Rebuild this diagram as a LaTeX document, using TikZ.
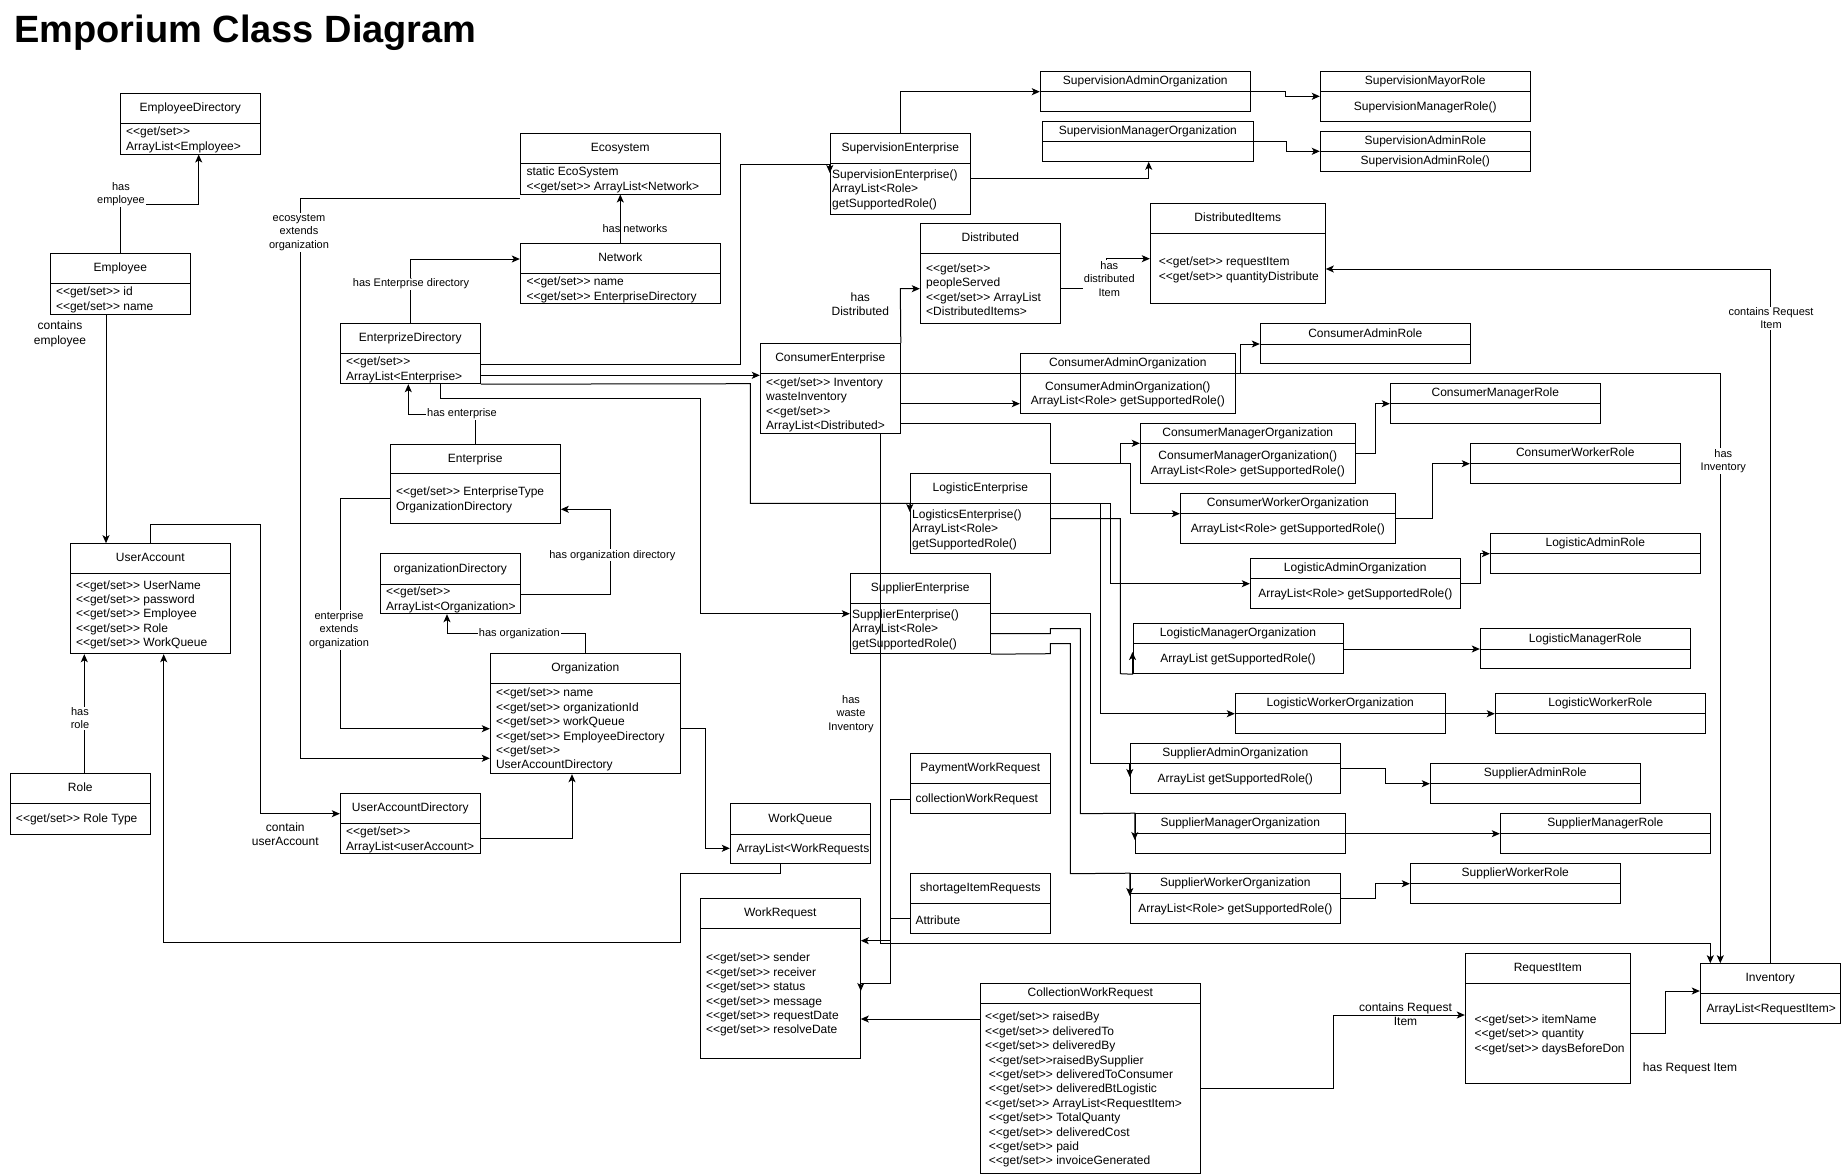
\documentclass[tikz,border=0pt]{standalone}
\usepackage{fontspec}
\newfontfamily\ls{Liberation Sans}
\usetikzlibrary{arrows.meta,fit}
\tikzset{
  box/.style={draw, line width=1pt, inner sep=0pt},
  ttl/.style={font=\ls\fontsize{12}{14.4}\selectfont, inner sep=0pt, text height=9pt, text depth=2.5pt},
  bdy/.style={font=\ls\fontsize{12}{14.4}\selectfont, inner sep=0pt},
  lbl/.style={font=\ls\fontsize{11}{13.5}\selectfont, align=center, inner sep=1pt},
  lblw/.style={lbl, fill=white},
  lbl12/.style={font=\ls\fontsize{12}{14.4}\selectfont, align=center, inner sep=1pt},
  ln/.style={line width=1pt},
  ar/.style={ln, -{Stealth[length=8pt,width=7pt,inset=2pt]}},
}
% name x1 y1 x2 ydiv y2 title pad body
\newcommand{\clsL}[9]{%
  \coordinate (#1-nw) at (#2,#3);
  \coordinate (#1-se) at (#4,#6);
  \node[box, fit=(#1-nw)(#1-se)] (#1) {};
  \draw[ln] (#2,#5) -- (#4,#5);
  \node[ttl] (#1-t) at ({(#2+#4)/2},{(#3+#5)/2}) {#7};
  \node[bdy, anchor=west, align=left] (#1-b) at ({#2+#8},{(#5+#6)/2+1}) {#9};
}
% name x1 y1 x2 ydiv y2 title body (centred)
\newcommand{\clsC}[8]{%
  \coordinate (#1-nw) at (#2,#3);
  \coordinate (#1-se) at (#4,#6);
  \node[box, fit=(#1-nw)(#1-se)] (#1) {};
  \draw[ln] (#2,#5) -- (#4,#5);
  \node[ttl] (#1-t) at ({(#2+#4)/2},{(#3+#5)/2}) {#7};
  \node[bdy, align=center] (#1-b) at ({(#2+#4)/2},{(#5+#6)/2+0.5}) {#8};
}
\begin{document}
\begin{tikzpicture}[x=1pt,y=-1pt]
\fill[white] (0,0) rectangle (1842,1175);
\useasboundingbox (0,0) rectangle (1842,1175);

\node[font=\ls\bfseries\fontsize{38}{42}\selectfont, anchor=base west, inner sep=0pt] (title) at (14,42) {Emporium Class Diagram};

% ---------- classes ----------
\clsL{empdir}{120.3}{93.3}{260.3}{123.7}{154}{EmployeeDirectory}{5.7}{<<get/set>>\\ArrayList<Employee>}
\clsL{employee}{50.3}{253.3}{190.3}{283.7}{314}{Employee}{5.5}{<<get/set>> id\\<<get/set>> name}
\clsL{useracc}{70.3}{543.7}{230.3}{573.7}{653.7}{UserAccount}{5.5}{<<get/set>> UserName\\<<get/set>> password\\<<get/set>> Employee\\<<get/set>> Role\\<<get/set>> WorkQueue}
\clsL{role}{10.3}{773.7}{150.3}{803.7}{834}{Role}{5.5}{<<get/set>> Role Type}
\clsL{uadir}{340.3}{793.7}{480.3}{823.7}{853.7}{UserAccountDirectory}{5.7}{<<get/set>>\\ArrayList<userAccount>}
\clsL{org}{490.3}{653.7}{680.3}{683.7}{773.7}{Organization}{5.5}{<<get/set>> name\\<<get/set>> organizationId\\<<get/set>> workQueue\\<<get/set>> EmployeeDirectory\\<<get/set>>\\UserAccountDirectory}
\clsL{orgdir}{380.3}{553.7}{520.3}{584}{613.7}{organizationDirectory}{5.7}{<<get/set>>\\ArrayList<Organization>}
\clsL{ent}{390.3}{444}{560.3}{473.7}{523.7}{Enterprise}{5.5}{<<get/set>> EnterpriseType\\OrganizationDirectory}
\clsL{entdir}{340.3}{323.7}{480.3}{353.7}{383.7}{EnterprizeDirectory}{5.7}{<<get/set>>\\ArrayList<Enterprise>}
\clsL{eco}{520.3}{133.7}{720.3}{163.7}{194}{Ecosystem}{6}{static EcoSystem\\<<get/set>> ArrayList<Network>}
\clsL{net}{520.3}{243.7}{720.3}{273.7}{303.7}{Network}{6}{<<get/set>> name\\<<get/set>> EnterpriseDirectory}
\clsL{wq}{730.3}{803.7}{870.3}{834}{863.7}{WorkQueue}{6}{ArrayList<WorkRequests}
\clsL{wr}{700.3}{898.7}{860.3}{928.7}{1058.7}{WorkRequest}{5.5}{<<get/set>> sender\\<<get/set>> receiver\\<<get/set>> status\\<<get/set>> message\\<<get/set>> requestDate\\<<get/set>> resolveDate}
\clsL{cowr}{980.3}{983.7}{1200.3}{1003.7}{1173.7}{CollectionWorkRequest}{4.7}{<<get/set>> raisedBy\\<<get/set>> deliveredTo\\<<get/set>> deliveredBy\\\hspace*{3.7pt}<<get/set>>raisedBySupplier\\\hspace*{3.7pt}<<get/set>> deliveredToConsumer\\\hspace*{3.7pt}<<get/set>> deliveredBtLogistic\\<<get/set>> ArrayList<RequestItem>\\\hspace*{3.7pt}<<get/set>> TotalQuanty\\\hspace*{3.7pt}<<get/set>> deliveredCost\\\hspace*{3.7pt}<<get/set>> paid\\\hspace*{3.7pt}<<get/set>> invoiceGenerated}
\clsL{pwr}{910.3}{753.7}{1050.3}{783.7}{813.7}{PaymentWorkRequest}{5}{collectionWorkRequest}
\clsL{sir}{910.3}{873.7}{1050.3}{903.7}{933.7}{shortageItemRequests}{5}{Attribute}
\clsL{ri}{1465.3}{953.7}{1630.3}{983.7}{1083.7}{RequestItem}{9}{<<get/set>> itemName\\<<get/set>> quantity\\<<get/set>> daysBeforeDon}
\clsL{inv}{1700.3}{963.7}{1840.3}{993.7}{1023.7}{Inventory}{6}{ArrayList<RequestItem>}
\clsL{supe}{830.3}{133.7}{970.3}{163.7}{214}{SupervisionEnterprise}{1.7}{SupervisionEnterprise()\\ArrayList<Role>\\getSupportedRole()}
\clsC{sado}{1040.3}{71.7}{1250.3}{91.7}{111.3}{SupervisionAdminOrganization}{}
\clsC{smgo}{1042.7}{121.7}{1253}{141.3}{161.3}{SupervisionManagerOrganization}{}
\clsC{smayr}{1320.3}{71.7}{1530.3}{91.7}{121.3}{SupervisionMayorRole}{SupervisionManagerRole()}
\clsC{sadr}{1320.3}{131.7}{1530.3}{151.3}{171.3}{SupervisionAdminRole}{SupervisionAdminRole()}
\clsL{dist}{920.3}{223.7}{1060.3}{253.7}{323.7}{Distributed}{5.7}{<<get/set>>\\peopleServed\\<<get/set>> ArrayList\\<DistributedItems>}
\clsL{ditems}{1150.3}{203.7}{1325.3}{233.7}{303.7}{DistributedItems}{8.3}{<<get/set>> requestItem\\<<get/set>> quantityDistribute}
\clsL{ce}{760.3}{343.7}{900.3}{373.7}{433.7}{ConsumerEnterprise}{5.7}{<<get/set>> Inventory\\wasteInventory\\<<get/set>>\\ArrayList<Distributed>}
\clsC{cao}{1020.3}{353.7}{1235.3}{373.7}{413.7}{ConsumerAdminOrganization}{ConsumerAdminOrganization()\\ArrayList<Role> getSupportedRole()}
\clsC{car}{1260.3}{323.7}{1470.3}{344}{363.7}{ConsumerAdminRole}{}
\clsC{cmo}{1140.3}{423.7}{1355.3}{443.3}{483.7}{ConsumerManagerOrganization}{ConsumerManagerOrganization()\\ArrayList<Role> getSupportedRole()}
\clsC{cmr}{1390.3}{383.7}{1600.3}{403.7}{423.7}{ConsumerManagerRole}{}
\clsC{cwo}{1180.3}{493.7}{1395.3}{513.7}{543.7}{ConsumerWorkerOrganization}{ArrayList<Role> getSupportedRole()}
\clsC{cwr}{1470.3}{443.7}{1680.3}{463.7}{483.7}{ConsumerWorkerRole}{}
\clsL{le}{910.3}{473.7}{1050.3}{503.7}{553.7}{LogisticEnterprise}{1.7}{LogisticsEnterprise()\\ArrayList<Role>\\getSupportedRole()}
\clsC{lao}{1250.3}{558.7}{1460.3}{578.7}{608.7}{LogisticAdminOrganization}{ArrayList<Role> getSupportedRole()}
\clsC{lar}{1490.3}{533.7}{1700.3}{553.7}{573.7}{LogisticAdminRole}{}
\clsC{lmo}{1133}{623.7}{1343}{643.7}{673.7}{LogisticManagerOrganization}{ArrayList getSupportedRole()}
\clsC{lmr}{1480.3}{628.7}{1690.3}{649}{668.7}{LogisticManagerRole}{}
\clsC{lwo}{1235.3}{693.7}{1445.3}{713.7}{733.7}{LogisticWorkerOrganization}{}
\clsC{lwr}{1495.3}{693.7}{1705.3}{713.7}{733.7}{LogisticWorkerRole}{}
\clsL{se}{850.3}{573.7}{990.3}{603.7}{653.7}{SupplierEnterprise}{1.7}{SupplierEnterprise()\\ArrayList<Role>\\getSupportedRole()}
\clsC{sao}{1130.3}{743.7}{1340.3}{763.7}{793.7}{SupplierAdminOrganization}{ArrayList getSupportedRole()}
\clsC{sar}{1430.3}{763.7}{1640.3}{783.7}{803.7}{SupplierAdminRole}{}
\clsC{smo}{1135.3}{813.7}{1345.3}{833.7}{853.7}{SupplierManagerOrganization}{}
\clsC{smr}{1500.3}{813.7}{1710.3}{833.7}{853.7}{SupplierManagerRole}{}
\clsC{swo}{1130.3}{873.7}{1340.3}{893.7}{923.7}{SupplierWorkerOrganization}{ArrayList<Role> getSupportedRole()}
\clsC{swr}{1410.3}{863.7}{1620.3}{883.7}{903.7}{SupplierWorkerRole}{}

% ---------- connectors ----------
\draw[ar] (employee.north) -- (employee.north |- 0,204) -- (198.7,204) -- (empdir.south -| 198.7,0);
\node[lblw] (l1) at (121,194) {has\\employee};
\draw[ar] (employee.south -| 106,0) -- (useracc.north -| 106,0);
\node[lbl12] (l2) at (60,334) {contains\\employee};
\draw[ar] (role.north -| 84.3,0) -- (useracc.south -| 84.3,0);
\node[lblw] (l3) at (80,718.3) {has\\role};
\draw[ar] (useracc.north -| 150.3,0) -- (150.3,524) -- (260.3,524) -- (260.3,813.7) -- (uadir.west |- 0,813.7);
\node[lbl12] (l4) at (285.3,834) {contain\\userAccount};
\draw[ar] (uadir.east |- 0,838) -- (572,838) -- (org.south -| 572,0);
\draw[ar] (wq.south -| 780.3,0) -- (780.3,873.7) -- (680.3,873.7) -- (680.3,942) -- (163.7,942) -- (useracc.south -| 163.7,0);
\draw[ar] (org.east |- 0,728.7) -- (705.3,728.7) -- (705.3,848.3) -- (wq.west |- 0,848.3);
\draw[ar] (ent.west |- 0,498.7) -- (340.3,498.7) -- (340.3,728.7) -- (org.west |- 0,728.7);
\node[lblw] (l5) at (339,630) {enterprise\\extends\\organization};
\draw[ar] (eco.south west |- 0,198.3) -- (300.3,198.3) -- (300.3,758.3) -- (org.west |- 0,758.3);
\node[lblw] (l6) at (299,232.3) {ecosystem\\extends\\organization};
\draw[ar] (net.north) -- (eco.south);
\node[lbl] (l7) at (635,229) {has networks};
\draw[ar] (entdir.north -| 410.3,0) -- (410.3,259) -- (net.west |- 0,259);
\node[lblw] (l8) at (411,284) {has Enterprise directory};
\draw[ar] (ent.north -| 475,0) -- (475,414) -- (408.3,414) -- (entdir.south -| 408.3,0);
\node[lblw] (l9) at (462,414) {has enterprise};
\draw[ar] (orgdir.east |- 0,594) -- (610.3,594) -- (610.3,509.3) -- (ent.east |- 0,509.3);
\node[lblw] (l10) at (612.3,555.3) {has organization directory};
\draw[ar] (org.north -| 585.3,0) -- (585.3,633.3) -- (447,633.3) -- (orgdir.south -| 447,0);
\node[lblw] (l11) at (519.3,633.3) {has organization};

\draw[ar] (entdir.east |- 0,364) -- (740.3,364) -- (740.3,164) -- (supe.west |- 0,164) -- (supe.west |- 0,173);
\draw[ar] (entdir.east |- 0,375.3) -- (ce.west |- 0,375.3);
\draw[ar] (entdir.south -| 440.3,0) -- (440.3,398.7) -- (700.3,398.7) -- (700.3,613.7) -- (se.west |- 0,613.7);
\draw[ar] (entdir.south east) -- (750.3,383.7) -- (750.3,503.3) -- (le.west |- 0,503.3) -- (le.west |- 0,512);

\draw[ar] (ce.north east) -- (900.3,288.7) -- (dist.west |- 0,288.7);
\node[lbl12] (l12) at (860.3,304) {has\\Distributed};
\draw[ar] (ce.east |- 0,423.7) -- (1050.3,423.7) -- (1050.3,463.7) -- (1120.3,463.7) -- (1120.3,443.3) -- (cmo.west |- 0,443.3);
\draw[ar] (ce.east |- 0,423.7) -- (1050.3,423.7) -- (1050.3,463.7) -- (1130.3,463.7) -- (1130.3,513.7) -- (cwo.west |- 0,513.7);
\draw[ar] (ce.east |- 0,403.7) -- (cao.west |- 0,403.7);
\draw[ar] (ce.east |- 0,373.7) -- (1720.3,373.7) -- (inv.north -| 1720.3,0);
\node[lblw] (l13) at (1723.3,461) {has\\Inventory};
\draw[ar] (ce.south -| 880.3,0) -- (880.3,943.3) -- (1710.3,943.3) -- (inv.north -| 1710.3,0);
\node[lbl] (l14) at (851,714) {has\\waste\\Inventory};

\draw[ar] (cao.east |- 0,373.7) -- (1240.3,373.7) -- (1240.3,344) -- (car.west |- 0,344);
\draw[ar] (cmo.east |- 0,453.7) -- (1375.3,453.7) -- (1375.3,403.7) -- (cmr.west |- 0,403.7);
\draw[ar] (cwo.east |- 0,518.7) -- (1432.7,518.7) -- (1432.7,463.7) -- (cwr.west |- 0,463.7);
\draw[ar] (le.east |- 0,503.7) -- (1110.3,503.7) -- (1110.3,583.7) -- (lao.west |- 0,583.7);
\draw[ar] (le.east |- 0,503.7) -- (1100.3,503.7) -- (1100.3,713.7) -- (lwo.west |- 0,713.7);
\draw[ar] (le.east |- 0,518.7) -- (1120.3,518.7) -- (1120.3,673.7) -- (lmo.south west) -- (lmo.west |- 0,652);
\draw[ar] (lao.east |- 0,583.7) -- (1480.3,583.7) -- (1480.3,553.7) -- (lar.west |- 0,553.7);
\draw[ar] (lmo.east |- 0,649) -- (lmr.west |- 0,649);
\draw[ar] (lwo.east |- 0,713.7) -- (lwr.west |- 0,713.7);
\draw[ar] (se.east |- 0,613.7) -- (1090.3,613.7) -- (1090.3,763.7) -- (sao.west |- 0,763.7) -- (sao.west |- 0,777);
\draw[ar] (se.east |- 0,633.7) -- (1050.3,633.7) -- (1050.3,628.7) -- (1080.3,628.7) -- (1080.3,813.7) -- (smo.north west) -- (smo.west |- 0,840);
\draw[ar] (se.south east) -- (1050.3,653.7) -- (1050.3,643.7) -- (1070.3,643.7) -- (1070.3,873.7) -- (swo.north west) -- (swo.west |- 0,896);
\draw[ar] (sao.east |- 0,768.7) -- (1385.3,768.7) -- (1385.3,783.7) -- (sar.west |- 0,783.7);
\draw[ar] (smo.east |- 0,833.7) -- (smr.west |- 0,833.7);
\draw[ar] (swo.east |- 0,898.7) -- (1375.3,898.7) -- (1375.3,883.7) -- (swr.west |- 0,883.7);

\draw[ar] (supe.north -| 900.3,0) -- (900.3,91.7) -- (sado.west |- 0,91.7);
\draw[ar] (supe.east |- 0,178.3) -- (1148.7,178.3) -- (smgo.south -| 1148.7,0);
\draw[ar] (sado.east |- 0,91.7) -- (1285.3,91.7) -- (1285.3,96.3) -- (smayr.west |- 0,96.3);
\draw[ar] (smgo.east |- 0,141.3) -- (1286.7,141.3) -- (1286.7,151.3) -- (sadr.west |- 0,151.3);

\draw[ar] (dist.east |- 0,288.7) -- (1106,288.7) -- (1106,258.7) -- (ditems.west |- 0,258.7);
\node[lblw] (l15) at (1109.3,279) {has\\distributed\\Item};
\draw[ar] (inv.north -| 1770.3,0) -- (1770.3,269) -- (ditems.east |- 0,269);
\node[lblw] (l16) at (1771,318.3) {contains Request\\Item};

\draw[ar] (pwr.west |- 0,799) -- (890.3,799) -- (890.3,983.7) -- (wr.east |- 0,983.7) -- (wr.east |- 0,991);
\draw[ar] (sir.west |- 0,918.7) -- (890.3,918.7) -- (890.3,940.7) -- (wr.east |- 0,940.7);
\draw[ar] (cowr.west |- 0,1019) -- (wr.east |- 0,1019);
\draw[ar] (cowr.east |- 0,1088.7) -- (1333,1088.7) -- (1333,1015) -- (ri.west |- 0,1015);
\node[lbl12] (l17) at (1405.5,1014) {contains Request\\Item};
\draw[ar] (ri.east |- 0,1033.7) -- (1665.3,1033.7) -- (1665.3,991) -- (inv.west |- 0,991);
\node[lbl12] (l18) at (1690,1068.7) {has Request Item};
\end{tikzpicture}
\end{document}
